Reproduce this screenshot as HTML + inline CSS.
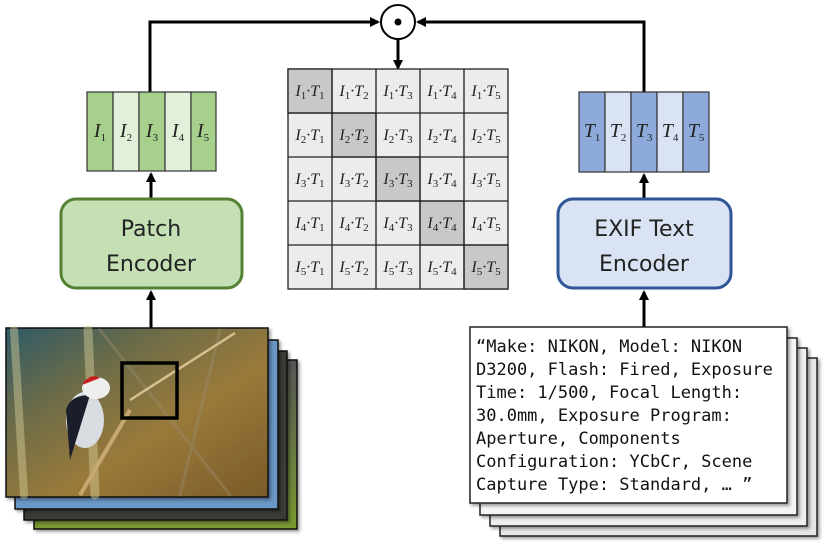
<!DOCTYPE html>
<html><head><style>
html,body{margin:0;padding:0;background:#fff;}
svg{display:block}
.m{font-family:"Liberation Serif",serif;font-style:italic;font-size:16px;}
.b{font-size:20px}
.s{font-size:11px;font-style:normal}
.enc{font-family:"DejaVu Sans","Liberation Sans",sans-serif;font-size:22px;fill:#222}
.mono{font-family:"DejaVu Sans Mono","Liberation Mono",monospace;font-size:17px;fill:#111}
</style></head><body>
<svg width="830" height="552" viewBox="0 0 830 552" xmlns="http://www.w3.org/2000/svg">
<defs>
<marker id="ah" markerWidth="10" markerHeight="10" refX="8" refY="5" orient="auto" markerUnits="userSpaceOnUse"><path d="M0,0 L10,5 L0,10 z" fill="#000"/></marker>
<linearGradient id="bg" x1="0" y1="0" x2="1" y2="1">
<stop offset="0" stop-color="#2f5a66"/><stop offset="0.3" stop-color="#6d6c48"/><stop offset="0.6" stop-color="#9a7a3a"/><stop offset="1" stop-color="#7a5a28"/></linearGradient>
<linearGradient id="gr" x1="0" y1="0" x2="0" y2="1"><stop offset="0" stop-color="#555"/><stop offset="1" stop-color="#7a9a30"/></linearGradient>
<filter id="sh" x="-10%" y="-10%" width="130%" height="130%"><feDropShadow dx="2" dy="2" stdDeviation="1.5" flood-opacity="0.4"/></filter>
</defs>

<polyline points="150,92 150,22 378,22" fill="none" stroke="#000" stroke-width="3" marker-end="url(#ah)"/>
<polyline points="644,92 644,22 418,22" fill="none" stroke="#000" stroke-width="3" marker-end="url(#ah)"/>
<circle cx="398" cy="22" r="17" fill="#fff" stroke="#000" stroke-width="2"/>
<circle cx="398" cy="22" r="3.5" fill="#000"/>
<line x1="398" y1="39" x2="398" y2="68" stroke="#000" stroke-width="3" marker-end="url(#ah)"/>

<g stroke="#222" stroke-width="1.3">
<rect x="288" y="69" width="220" height="220" fill="#ececec"/>
<rect x="288" y="69" width="44" height="44" fill="#c8c8c8"/>
<rect x="332" y="113" width="44" height="44" fill="#c8c8c8"/>
<rect x="376" y="157" width="44" height="44" fill="#c8c8c8"/>
<rect x="420" y="201" width="44" height="44" fill="#c8c8c8"/>
<rect x="464" y="245" width="44" height="44" fill="#c8c8c8"/>
<line x1="332" y1="69" x2="332" y2="289"/><line x1="376" y1="69" x2="376" y2="289"/><line x1="420" y1="69" x2="420" y2="289"/><line x1="464" y1="69" x2="464" y2="289"/>
<line x1="288" y1="113" x2="508" y2="113"/><line x1="288" y1="157" x2="508" y2="157"/><line x1="288" y1="201" x2="508" y2="201"/><line x1="288" y1="245" x2="508" y2="245"/>
</g>
<g class="m" fill="#222" text-anchor="middle">
<text x="310" y="96">I<tspan class="s" dy="3">1</tspan><tspan dy="-3">·T</tspan><tspan class="s" dy="3">1</tspan></text>
<text x="354" y="96">I<tspan class="s" dy="3">1</tspan><tspan dy="-3">·T</tspan><tspan class="s" dy="3">2</tspan></text>
<text x="398" y="96">I<tspan class="s" dy="3">1</tspan><tspan dy="-3">·T</tspan><tspan class="s" dy="3">3</tspan></text>
<text x="442" y="96">I<tspan class="s" dy="3">1</tspan><tspan dy="-3">·T</tspan><tspan class="s" dy="3">4</tspan></text>
<text x="486" y="96">I<tspan class="s" dy="3">1</tspan><tspan dy="-3">·T</tspan><tspan class="s" dy="3">5</tspan></text>
<text x="310" y="140">I<tspan class="s" dy="3">2</tspan><tspan dy="-3">·T</tspan><tspan class="s" dy="3">1</tspan></text>
<text x="354" y="140">I<tspan class="s" dy="3">2</tspan><tspan dy="-3">·T</tspan><tspan class="s" dy="3">2</tspan></text>
<text x="398" y="140">I<tspan class="s" dy="3">2</tspan><tspan dy="-3">·T</tspan><tspan class="s" dy="3">3</tspan></text>
<text x="442" y="140">I<tspan class="s" dy="3">2</tspan><tspan dy="-3">·T</tspan><tspan class="s" dy="3">4</tspan></text>
<text x="486" y="140">I<tspan class="s" dy="3">2</tspan><tspan dy="-3">·T</tspan><tspan class="s" dy="3">5</tspan></text>
<text x="310" y="184">I<tspan class="s" dy="3">3</tspan><tspan dy="-3">·T</tspan><tspan class="s" dy="3">1</tspan></text>
<text x="354" y="184">I<tspan class="s" dy="3">3</tspan><tspan dy="-3">·T</tspan><tspan class="s" dy="3">2</tspan></text>
<text x="398" y="184">I<tspan class="s" dy="3">3</tspan><tspan dy="-3">·T</tspan><tspan class="s" dy="3">3</tspan></text>
<text x="442" y="184">I<tspan class="s" dy="3">3</tspan><tspan dy="-3">·T</tspan><tspan class="s" dy="3">4</tspan></text>
<text x="486" y="184">I<tspan class="s" dy="3">3</tspan><tspan dy="-3">·T</tspan><tspan class="s" dy="3">5</tspan></text>
<text x="310" y="228">I<tspan class="s" dy="3">4</tspan><tspan dy="-3">·T</tspan><tspan class="s" dy="3">1</tspan></text>
<text x="354" y="228">I<tspan class="s" dy="3">4</tspan><tspan dy="-3">·T</tspan><tspan class="s" dy="3">2</tspan></text>
<text x="398" y="228">I<tspan class="s" dy="3">4</tspan><tspan dy="-3">·T</tspan><tspan class="s" dy="3">3</tspan></text>
<text x="442" y="228">I<tspan class="s" dy="3">4</tspan><tspan dy="-3">·T</tspan><tspan class="s" dy="3">4</tspan></text>
<text x="486" y="228">I<tspan class="s" dy="3">4</tspan><tspan dy="-3">·T</tspan><tspan class="s" dy="3">5</tspan></text>
<text x="310" y="272">I<tspan class="s" dy="3">5</tspan><tspan dy="-3">·T</tspan><tspan class="s" dy="3">1</tspan></text>
<text x="354" y="272">I<tspan class="s" dy="3">5</tspan><tspan dy="-3">·T</tspan><tspan class="s" dy="3">2</tspan></text>
<text x="398" y="272">I<tspan class="s" dy="3">5</tspan><tspan dy="-3">·T</tspan><tspan class="s" dy="3">3</tspan></text>
<text x="442" y="272">I<tspan class="s" dy="3">5</tspan><tspan dy="-3">·T</tspan><tspan class="s" dy="3">4</tspan></text>
<text x="486" y="272">I<tspan class="s" dy="3">5</tspan><tspan dy="-3">·T</tspan><tspan class="s" dy="3">5</tspan></text>
</g>

<g stroke="#333" stroke-width="1.2">
<rect x="87" y="92" width="26" height="79" fill="#a6d08c"/>
<rect x="113" y="92" width="26" height="79" fill="#e2efd9"/>
<rect x="139" y="92" width="26" height="79" fill="#a6d08c"/>
<rect x="165" y="92" width="26" height="79" fill="#e2efd9"/>
<rect x="191" y="92" width="25" height="79" fill="#a6d08c"/>
</g>
<g class="m b" fill="#222" text-anchor="middle">
<text x="100" y="137">I<tspan class="s" dy="4">1</tspan></text>
<text x="126" y="137">I<tspan class="s" dy="4">2</tspan></text>
<text x="152" y="137">I<tspan class="s" dy="4">3</tspan></text>
<text x="178" y="137">I<tspan class="s" dy="4">4</tspan></text>
<text x="203" y="137">I<tspan class="s" dy="4">5</tspan></text>
</g>
<g stroke="#333" stroke-width="1.2">
<rect x="579" y="92" width="26" height="80" fill="#8eaadb"/>
<rect x="605" y="92" width="26" height="80" fill="#dae3f3"/>
<rect x="631" y="92" width="26" height="80" fill="#8eaadb"/>
<rect x="657" y="92" width="26" height="80" fill="#dae3f3"/>
<rect x="683" y="92" width="26" height="80" fill="#8eaadb"/>
</g>
<g class="m b" fill="#222" text-anchor="middle">
<text x="592" y="137">T<tspan class="s" dy="4">1</tspan></text>
<text x="618" y="137">T<tspan class="s" dy="4">2</tspan></text>
<text x="644" y="137">T<tspan class="s" dy="4">3</tspan></text>
<text x="670" y="137">T<tspan class="s" dy="4">4</tspan></text>
<text x="696" y="137">T<tspan class="s" dy="4">5</tspan></text>
</g>

<line x1="151" y1="198" x2="151" y2="174" stroke="#000" stroke-width="3" marker-end="url(#ah)"/>
<line x1="644" y1="198" x2="644" y2="175" stroke="#000" stroke-width="3" marker-end="url(#ah)"/>
<rect x="61" y="199" width="181" height="89" rx="15" fill="#c5e0b4" stroke="#548235" stroke-width="3"/>
<text class="enc" x="151" y="236" text-anchor="middle">Patch</text>
<text class="enc" x="151" y="271" text-anchor="middle">Encoder</text>
<rect x="558" y="199" width="173" height="89" rx="15" fill="#dae3f3" stroke="#2f5597" stroke-width="3"/>
<text class="enc" x="644" y="236" text-anchor="middle">EXIF Text</text>
<text class="enc" x="644" y="271" text-anchor="middle">Encoder</text>
<line x1="151" y1="362" x2="151" y2="292" stroke="#000" stroke-width="3" marker-end="url(#ah)"/>
<line x1="644" y1="327" x2="644" y2="292" stroke="#000" stroke-width="3" marker-end="url(#ah)"/>

<rect x="34" y="360" width="263" height="169" fill="url(#gr)" stroke="#111" stroke-width="1.5" filter="url(#sh)"/>
<rect x="24" y="351" width="263" height="169" fill="#3a3a38" stroke="#111" stroke-width="1.5" filter="url(#sh)"/>
<rect x="15" y="340" width="263" height="169" fill="#6a97c6" stroke="#111" stroke-width="1.5" filter="url(#sh)"/>
<rect x="6" y="328" width="262" height="169" fill="url(#bg)" stroke="#111" stroke-width="1.5" filter="url(#sh)"/>
<g opacity="0.45" stroke-linecap="round">
<line x1="14" y1="330" x2="24" y2="495" stroke="#d9d09a" stroke-width="8"/>
<line x1="88" y1="330" x2="95" y2="495" stroke="#d9d09a" stroke-width="9"/>
<line x1="100" y1="330" x2="230" y2="495" stroke="#9a8a6a" stroke-width="3"/>
<line x1="220" y1="330" x2="180" y2="495" stroke="#9a8a6a" stroke-width="3"/>
</g>
<line x1="80" y1="495" x2="130" y2="410" stroke="#c7a870" stroke-width="4"/>
<line x1="130" y1="400" x2="235" y2="333" stroke="#d7c090" stroke-width="2.5"/>
<ellipse cx="85" cy="420" rx="19" ry="28" fill="#d9dce0"/>
<path d="M66,410 Q70,395 90,395 L70,460 Z" fill="#1a1e2a"/>
<ellipse cx="96" cy="388" rx="14" ry="11" fill="#eee"/>
<path d="M82,385 Q90,372 100,378 Z" fill="#c81d1d"/>
<rect x="122" y="363" width="55" height="55" fill="none" stroke="#000" stroke-width="3.5"/>

<rect x="500" y="358" width="317" height="178" fill="#e6e6e6" stroke="#222" stroke-width="1.5" filter="url(#sh)"/>
<rect x="490" y="348" width="317" height="178" fill="#eeeeee" stroke="#222" stroke-width="1.5" filter="url(#sh)"/>
<rect x="480" y="338" width="317" height="177" fill="#f4f4f4" stroke="#222" stroke-width="1.5" filter="url(#sh)"/>
<rect x="470" y="327" width="317" height="176" fill="#fff" stroke="#222" stroke-width="1.5" filter="url(#sh)"/>
<g class="mono">
<text x="476" y="352">“Make: NIKON, Model: NIKON</text>
<text x="476" y="375">D3200, Flash: Fired, Exposure</text>
<text x="476" y="398">Time: 1/500, Focal Length:</text>
<text x="476" y="421">30.0mm, Exposure Program:</text>
<text x="476" y="444">Aperture, Components</text>
<text x="476" y="467">Configuration: YCbCr, Scene</text>
<text x="476" y="490">Capture Type: Standard, … ”</text>
</g>
</svg>
</body></html>
